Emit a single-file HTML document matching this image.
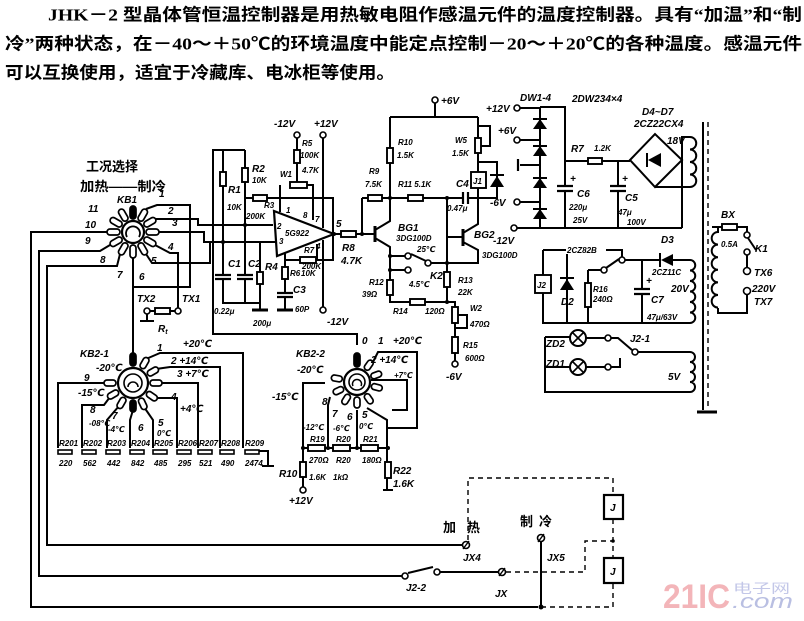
<!DOCTYPE html>
<html><head><meta charset="utf-8"><style>
html,body{margin:0;padding:0;background:#fff;}
svg{display:block;}
.w{fill:none;stroke:#000;stroke-width:2;stroke-linejoin:miter;}
.d{fill:none;stroke:#000;stroke-width:1.4;stroke-dasharray:5 4;}
.r{fill:#fff;stroke:#000;stroke-width:1.9;}
.t{fill:#fff;stroke:#000;stroke-width:1.6;}
.l{font-family:"Liberation Sans","DejaVu Sans","Noto Sans CJK SC",sans-serif;font-weight:bold;font-style:italic;font-size:10px;fill:#000;}
.s{font-family:"Liberation Sans","DejaVu Sans",sans-serif;font-weight:bold;font-style:italic;font-size:8px;fill:#000;}
.c{font-family:"Liberation Sans","Noto Sans CJK SC",sans-serif;font-weight:bold;font-size:13px;fill:#000;}
.ti{font-family:"Liberation Serif","Noto Sans CJK SC",serif;font-weight:bold;font-size:17px;fill:#000;}
</style></head><body>
<svg width="804" height="621" viewBox="0 0 804 621" xmlns="http://www.w3.org/2000/svg">
<rect width="804" height="621" fill="#fff"/>

<!-- Title -->
<text class="ti" x="48" y="20.5" textLength="754" lengthAdjust="spacingAndGlyphs">JHK－2 型晶体管恒温控制器是用热敏电阻作感温元件的温度控制器。具有“加温”和“制</text>
<text class="ti" x="5" y="49.5" textLength="797" lengthAdjust="spacingAndGlyphs">冷”两种状态，在－40～＋50℃的环境温度中能定点控制－20～＋20℃的各种温度。感温元件</text>
<text class="ti" x="5" y="78.5" textLength="390" lengthAdjust="spacingAndGlyphs">可以互换使用，适宜于冷藏库、电冰柜等使用。</text>

<!-- ================= KB1 ================= -->
<g class="w">
<path d="M146,209 L157,205 H190 V287 H133"/>
<path d="M155,219 H198 V225 H273"/>
<path d="M159,232 H204 V242 H275"/>
<path d="M155,245 L170,253 H178 V308"/>
<path d="M146,254 L152,263 H210 V242"/>
<path d="M133,258 V353"/>
<path d="M120,254 L117,266 H47 V545 H462"/>
<path d="M110,245 L100,251 H39 V576 H402"/>
<path d="M107,232 H31 V607 H538"/>
</g>
<circle cx="133" cy="232" r="11" fill="#fff" stroke="#000" stroke-width="2.2"/>
<path d="M127,237 A7,7 0 1 1 139,237" fill="none" stroke="#000" stroke-width="1.8"/>
<g transform="translate(133,232)">
<g fill="#fff" stroke="#000" stroke-width="1.7">
<rect x="-3" y="-26" width="6" height="13" rx="3" transform="rotate(0)" fill="#000"/>
<rect x="-3" y="-26" width="6" height="13" rx="3" transform="rotate(30)"/>
<rect x="-3" y="-26" width="6" height="13" rx="3" transform="rotate(60)"/>
<rect x="-3" y="-26" width="6" height="13" rx="3" transform="rotate(90)"/>
<rect x="-3" y="-26" width="6" height="13" rx="3" transform="rotate(120)"/>
<rect x="-3" y="-26" width="6" height="13" rx="3" transform="rotate(150)"/>
<rect x="-3" y="-26" width="6" height="13" rx="3" transform="rotate(180)"/>
<rect x="-3" y="-26" width="6" height="13" rx="3" transform="rotate(210)"/>
<rect x="-3" y="-26" width="6" height="13" rx="3" transform="rotate(240)"/>
<rect x="-3" y="-26" width="6" height="13" rx="3" transform="rotate(270)"/>
<rect x="-3" y="-26" width="6" height="13" rx="3" transform="rotate(300)"/>
<rect x="-3" y="-26" width="6" height="13" rx="3" transform="rotate(330)"/>
</g></g>
<text class="c" x="86" y="171">工况选择</text>
<text class="c" x="80" y="191" textLength="86" lengthAdjust="spacingAndGlyphs">加热——制冷</text>
<text class="l" x="117" y="203">KB1</text>
<text class="l" x="159" y="197">1</text>
<text class="l" x="168" y="214">2</text>
<text class="l" x="172" y="226">3</text>
<text class="l" x="168" y="250">4</text>
<text class="l" x="151" y="264">5</text>
<text class="l" x="139" y="280">6</text>
<text class="l" x="117" y="278">7</text>
<text class="l" x="100" y="263">8</text>
<text class="l" x="85" y="244">9</text>
<text class="l" x="85" y="228">10</text>
<text class="l" x="88" y="212">11</text>

<!-- TX1/TX2/Rt -->
<g class="w"><path d="M150,311 H155 M170,311 H175 M147,314 V321 M140,321 H154"/></g>
<rect class="r" x="155" y="308" width="15" height="6"/>
<circle class="t" cx="147" cy="311" r="3"/>
<circle class="t" cx="178" cy="311" r="3"/>
<text class="l" x="137" y="302">TX2</text>
<text class="l" x="182" y="302">TX1</text>
<text class="l" x="158" y="332">R<tspan font-size="7" dy="2">t</tspan></text>

<!-- ================= Op-amp ================= -->
<g class="w">
<path d="M245,150 H213 V334 H357 V345"/>
<path d="M223,150 V303 H260"/>
<path d="M245,150 V303"/>
<path d="M260,242 V310"/>
<path d="M245,198 H333 V260 H285"/>
<path d="M280,185 V212 M306,185 H313 V220"/>
<path d="M297,138 V182"/>
<path d="M323,138 V228 M323,240 V307"/>
<path d="M285,245 V310"/>
<path d="M317,244 V260"/>
<path d="M334,234 H375"/>
</g>
<path d="M252,310 H268 M277,310 H293" stroke="#000" stroke-width="3"/>
<rect x="214" y="275" width="18" height="4" fill="#fff"/>
<rect x="236" y="275" width="18" height="4" fill="#fff"/>
<rect x="276" y="293" width="18" height="4" fill="#fff"/>
<g stroke="#000" stroke-width="2.2"><path d="M215,275 H231 M215,279 H231 M237,275 H253 M237,279 H253 M277,293 H293 M277,297 H293"/></g>
<rect class="r" x="220" y="172" width="6" height="14"/>
<rect class="r" x="242" y="168" width="6" height="14"/>
<rect class="r" x="257" y="272" width="6" height="12"/>
<rect class="r" x="253" y="195" width="14" height="6"/>
<rect class="r" x="290" y="182" width="17" height="6"/>
<rect class="r" x="294" y="150" width="6" height="13"/>
<rect class="r" x="300" y="257" width="16" height="6"/>
<rect class="r" x="282" y="267" width="6" height="12"/>
<rect class="r" x="341" y="231" width="15" height="6"/>
<polygon points="274,211 277,256 334,234" fill="#fff" stroke="#000" stroke-width="2.2"/>
<circle cx="223" cy="242" r="2" fill="#000"/><circle cx="245" cy="225" r="2" fill="#000"/><circle cx="334" cy="234" r="2" fill="#000"/><circle cx="362" cy="234" r="2" fill="#000"/>
<circle class="t" cx="297" cy="135" r="3"/>
<circle class="t" cx="323" cy="135" r="3"/>
<circle class="t" cx="323" cy="310" r="3"/>
<text class="s" x="285" y="236">5G922</text>
<text class="l" x="274" y="127">-12V</text>
<text class="l" x="314" y="127">+12V</text>
<text class="s" x="302" y="146">R5</text>
<text class="s" x="300" y="158">100K</text>
<text class="s" x="280" y="177">W1</text>
<text class="s" x="302" y="173">4.7K</text>
<text class="l" x="252" y="172">R2</text>
<text class="s" x="252" y="183">10K</text>
<text class="l" x="228" y="193">R1</text>
<text class="s" x="227" y="210">10K</text>
<text class="s" x="264" y="208">R3</text>
<text class="s" x="246" y="219">200K</text>
<text class="s" x="286" y="213">1</text>
<text class="s" x="303" y="218">8</text>
<text class="s" x="315" y="222">7</text>
<text class="s" x="277" y="229">2</text>
<text class="s" x="279" y="244">3</text>
<text class="s" x="316" y="249">4</text>
<text class="l" x="336" y="227">5</text>
<text class="s" x="304" y="253">R7</text>
<text class="s" x="302" y="269">200K</text>
<text class="s" x="290" y="276">R6</text>
<text class="s" x="301" y="276">10K</text>
<text class="l" x="342" y="251">R8</text>
<text class="l" x="341" y="264">4.7K</text>
<text class="l" x="228" y="267">C1</text>
<text class="l" x="248" y="267">C2</text>
<text class="l" x="265" y="270">R4</text>
<text class="l" x="293" y="293">C3</text>
<text class="s" x="295" y="312">60P</text>
<text class="s" x="214" y="314">0.22μ</text>
<text class="s" x="253" y="326">200μ</text>
<text class="l" x="327" y="325">-12V</text>

<!-- ================= Transistors ================= -->
<g class="w">
<path d="M435,103 V117 M390,117 H478 M390,117 V221 L375,230"/>
<path d="M375,238 L390,247 V302 H455 V361"/>
<path d="M362,198 H463 M362,198 V234"/>
<path d="M468,198 H497 V162 H478"/>
<path d="M478,117 V172 M481,146 H490 V126 H478"/>
<path d="M478,188 V224 L463,233"/>
<path d="M447,237 H463 M463,242 L478,250 V263 H447"/>
<path d="M447,198 V302"/>
<path d="M458,315 H467 V328 H455"/>
<path d="M390,256 H405 M390,270 H405 M431,263 H447 M426,261 L411,254"/>
</g>
<path d="M375,226 V242 M463,229 V246" stroke="#000" stroke-width="3"/>
<g stroke="#000" stroke-width="2.2"><path d="M463,192 V204 M468,192 V204"/></g>
<rect class="r" x="387" y="148" width="6" height="15"/>
<rect class="r" x="368" y="195" width="14" height="6"/>
<rect class="r" x="408" y="195" width="15" height="6"/>
<rect class="r" x="475" y="138" width="6" height="15"/>
<rect class="r" x="471" y="172" width="15" height="16" stroke-width="2.2"/>
<text class="s" x="473" y="184">J1</text>
<polygon points="490,187 504,187 497,176" fill="#000"/><path d="M490,175 H504" stroke="#000" stroke-width="2"/>
<rect class="r" x="387" y="280" width="6" height="15"/>
<rect class="r" x="444" y="272" width="6" height="15"/>
<rect class="r" x="410" y="299" width="15" height="6"/>
<rect class="r" x="452" y="307" width="6" height="16"/>
<rect class="r" x="452" y="337" width="6" height="16"/>
<circle class="t" cx="435" cy="100" r="3"/>
<circle class="t" cx="408" cy="256" r="3"/>
<circle class="t" cx="408" cy="270" r="3"/>
<circle class="t" cx="428" cy="263" r="3"/>
<circle class="t" cx="455" cy="364" r="3"/>
<circle cx="390" cy="198" r="2" fill="#000"/><circle cx="447" cy="198" r="2" fill="#000"/><circle cx="447" cy="263" r="2" fill="#000"/><circle cx="447" cy="302" r="2" fill="#000"/><circle cx="390" cy="256" r="2" fill="#000"/><circle cx="390" cy="270" r="2" fill="#000"/>
<text class="l" x="441" y="104">+6V</text>
<text class="s" x="398" y="145">R10</text>
<text class="s" x="397" y="158">1.5K</text>
<text class="s" x="455" y="143">W5</text>
<text class="s" x="452" y="156">1.5K</text>
<text class="s" x="369" y="174">R9</text>
<text class="s" x="365" y="187">7.5K</text>
<text class="s" x="398" y="187">R11  5.1K</text>
<text class="l" x="456" y="187">C4</text>
<text class="s" x="447" y="211">0.47μ</text>
<text class="l" x="398" y="231">BG1</text>
<text class="s" x="396" y="241">3DG100D</text>
<text class="s" x="417" y="252">25℃</text>
<text class="l" x="430" y="279">K2</text>
<text class="s" x="409" y="287">4.5℃</text>
<text class="l" x="474" y="238">BG2</text>
<text class="l" x="493" y="244">-12V</text>
<text class="s" x="482" y="258">3DG100D</text>
<text class="s" x="369" y="285">R12</text>
<text class="s" x="362" y="297">39Ω</text>
<text class="s" x="458" y="283">R13</text>
<text class="s" x="458" y="295">22K</text>
<text class="s" x="393" y="314">R14</text>
<text class="s" x="425" y="314">120Ω</text>
<text class="s" x="470" y="311">W2</text>
<text class="s" x="470" y="327">470Ω</text>
<text class="s" x="463" y="348">R15</text>
<text class="s" x="465" y="361">600Ω</text>
<text class="l" x="446" y="380">-6V</text>

<!-- ================= Power supply ================= -->
<g class="w">
<path d="M520,108 H540 V228 M540,107 H565 V228 M517,228 H682"/>
<path d="M520,140 H540 M520,165 H540 M520,202 H540"/>
<path d="M565,161 H630 M618,161 V228"/>
<path d="M682,160 V137 H690 M682,160 V228 M655,187 H690"/>
<path d="M690,137 a6.25,6.25 0 0 1 0,12.5 a6.25,6.25 0 0 1 0,12.5 a6.25,6.25 0 0 1 0,12.5 a6.25,6.25 0 0 1 0,12.5"/>
</g>
<path d="M518,159 V171" stroke="#000" stroke-width="2.2"/>
<g fill="#000">
<polygon points="533,129 547,129 540,119"/><polygon points="533,156 547,156 540,146"/><polygon points="533,188 547,188 540,178"/><polygon points="533,219 547,219 540,209"/>
</g>
<g stroke="#000" stroke-width="2"><path d="M533,119 H547 M533,146 H547 M533,178 H547 M533,209 H547"/></g>
<rect x="556" y="186" width="18" height="5" fill="#fff"/>
<rect x="609" y="186" width="18" height="5" fill="#fff"/>
<g stroke="#000" stroke-width="2.2"><path d="M557,186 H573 M557,191 H573 M610,186 H626 M610,191 H626"/></g>
<rect class="r" x="588" y="158" width="14" height="6"/>
<polygon points="630,160 655,134 682,160 655,187" fill="none" stroke="#000" stroke-width="2"/>
<polygon points="648,160 661,153 661,167" fill="#000"/><path d="M647,153 V167" stroke="#000" stroke-width="2"/>
<circle class="t" cx="517" cy="108" r="3"/>
<circle class="t" cx="517" cy="140" r="3"/>
<circle class="t" cx="517" cy="202" r="3"/>
<circle class="t" cx="514" cy="228" r="3"/>
<text class="l" x="486" y="112">+12V</text>
<text class="l" x="498" y="134">+6V</text>
<text class="l" x="490" y="206">-6V</text>
<text class="l" x="520" y="101">DW1-4</text>
<text class="l" x="572" y="102">2DW234×4</text>
<text class="l" x="642" y="115">D4~D7</text>
<text class="l" x="634" y="127">2CZ22CX4</text>
<text class="l" x="667" y="144">18V</text>
<text class="l" x="571" y="152">R7</text>
<text class="s" x="594" y="151">1.2K</text>
<text class="l" x="570" y="182">+</text>
<text class="l" x="622" y="182">+</text>
<text class="l" x="577" y="197">C6</text>
<text class="s" x="569" y="210">220μ</text>
<text class="s" x="573" y="223">25V</text>
<text class="l" x="625" y="201">C5</text>
<text class="s" x="618" y="215">47μ</text>
<text class="s" x="627" y="225">100V</text>

<!-- Transformer -->
<path d="M703,122 V410" stroke="#000" stroke-width="2"/>
<path d="M708,122 V410" class="d"/>
<path d="M697,412 H717" stroke="#000" stroke-width="3"/>
<g class="w">
<path d="M712,227 H722 M737,227 H747 V232 M748,238 L756,250 M747,255 V268 M747,294 V313 H718 V308"/>
<path d="M712,227 H718 V232 a6.3,6.3 0 0 0 0,12.6 a6.3,6.3 0 0 0 0,12.6 a6.3,6.3 0 0 0 0,12.6 a6.3,6.3 0 0 0 0,12.6 a6.3,6.3 0 0 0 0,12.6 a6.3,6.3 0 0 0 0,12.6"/>
</g>
<rect class="r" x="722" y="224" width="15" height="6"/>
<circle class="t" cx="747" cy="235" r="3"/>
<circle class="t" cx="747" cy="252" r="3"/>
<circle class="t" cx="747" cy="271" r="3.5"/>
<circle class="t" cx="747" cy="291" r="3.5"/>
<text class="l" x="721" y="218">BX</text>
<text class="s" x="721" y="247">0.5A</text>
<text class="l" x="755" y="252">K1</text>
<text class="l" x="754" y="276">TX6</text>
<text class="l" x="752" y="292">220V</text>
<text class="l" x="754" y="305">TX7</text>

<!-- J2 / 20V -->
<g class="w">
<path d="M543,250 V275 M543,293 V323 H690 M543,250 H622 V257"/>
<path d="M625,260 H660 M673,260 H690"/>
<path d="M690,260 a5.25,5.25 0 0 1 0,10.5 a5.25,5.25 0 0 1 0,10.5 a5.25,5.25 0 0 1 0,10.5 a5.25,5.25 0 0 1 0,10.5 a5.25,5.25 0 0 1 0,10.5 a5.25,5.25 0 0 1 0,10.5"/>
<path d="M567,250 V323 M588,270 V323 M588,270 H601 M606,268 L619,259 M642,260 V323"/>
</g>
<rect class="r" x="535" y="275" width="16" height="18" stroke-width="2.2"/>
<text class="s" x="537" y="288">J2</text>
<polygon points="560,290 574,290 567,279" fill="#000"/><path d="M560,278 H574" stroke="#000" stroke-width="2"/>
<polygon points="661,260 673,254 673,266" fill="#000"/><path d="M660,253 V267" stroke="#000" stroke-width="2"/>
<rect class="r" x="585" y="283" width="6" height="24"/>
<rect x="633" y="289" width="18" height="5" fill="#fff"/>
<path d="M634,289 H650 M634,294 H650" stroke="#000" stroke-width="2.2"/>
<circle class="t" cx="622" cy="260" r="3"/>
<circle class="t" cx="604" cy="270" r="3"/>
<rect x="566" y="244" width="40" height="10" fill="#fff"/>
<text class="s" x="567" y="253">2CZ82B</text>
<text class="l" x="661" y="243">D3</text>
<text class="s" x="652" y="275">2CZ11C</text>
<text class="l" x="671" y="292">20V</text>
<text class="l" x="646" y="284">+</text>
<text class="l" x="651" y="303">C7</text>
<text class="s" x="647" y="320">47μ/63V</text>
<text class="s" x="593" y="292">R16</text>
<text class="s" x="593" y="302">240Ω</text>
<text class="l" x="561" y="305">D2</text>

<!-- Lamps -->
<g class="w">
<path d="M545,337 V392 H690 M545,337 H570 M586,338 H605 M545,367 H570 M586,367 H605 M611,367 H620 V358 M611,338 H618 L632,350 M638,352 H690"/>
<path d="M690,352 a5,5 0 0 1 0,10 a5,5 0 0 1 0,10 a5,5 0 0 1 0,10 a5,5 0 0 1 0,10"/>
</g>
<circle cx="578" cy="338" r="8" fill="#fff" stroke="#000" stroke-width="2"/>
<circle cx="578" cy="367" r="8" fill="#fff" stroke="#000" stroke-width="2"/>
<path d="M572,332 L584,344 M584,332 L572,344 M572,361 L584,373 M584,361 L572,373" stroke="#000" stroke-width="1.6"/>
<circle class="t" cx="608" cy="338" r="3"/>
<circle class="t" cx="608" cy="367" r="3"/>
<circle class="t" cx="635" cy="352" r="3"/>
<text class="l" x="546" y="347">ZD2</text>
<text class="l" x="546" y="367">ZD1</text>
<text class="l" x="630" y="342">J2-1</text>
<text class="l" x="668" y="380">5V</text>

<!-- ================= KB2-1 ================= -->
<g class="w">
<path d="M106,383 H58 V448"/>
<path d="M110,397 L104,405 H82 V448"/>
<path d="M119,406 L107,420 V448"/>
<path d="M133,410 L130,420 V448"/>
<path d="M144,407 L153,420 V448"/>
<path d="M155,398 H177 V448"/>
<path d="M160,383 H198 V448"/>
<path d="M156,369 L170,367 H220 V448"/>
<path d="M146,359 L160,353 H243 V448"/>
<path d="M259,451 H268 V466 M262,466 H274"/>
</g>
<circle cx="133" cy="383" r="15" fill="#fff" stroke="#000" stroke-width="2.2"/>
<circle cx="133" cy="383" r="9" fill="none" stroke="#000" stroke-width="1.6"/>
<path d="M128,387 A5,5 0 1 1 138,387" fill="none" stroke="#000" stroke-width="1.6"/>
<g transform="translate(133,383)">
<g fill="#fff" stroke="#000" stroke-width="1.7">
<rect x="-3" y="-30" width="6" height="13" rx="3" fill="#000"/>
<rect x="-3" y="-29" width="6" height="12" rx="3" transform="rotate(30)"/>
<rect x="-3" y="-29" width="6" height="12" rx="3" transform="rotate(60)"/>
<rect x="-3" y="-29" width="6" height="12" rx="3" transform="rotate(90)"/>
<rect x="-3" y="-29" width="6" height="12" rx="3" transform="rotate(125)"/>
<rect x="-3" y="-29" width="6" height="12" rx="3" transform="rotate(155)"/>
<rect x="-3" y="-29" width="6" height="12" rx="3" transform="rotate(180)" fill="#000"/>
<rect x="-3" y="-29" width="6" height="12" rx="3" transform="rotate(210)"/>
<rect x="-3" y="-29" width="6" height="12" rx="3" transform="rotate(240)"/>
<rect x="-3" y="-29" width="6" height="12" rx="3" transform="rotate(270)"/>
</g></g>
<g fill="#fff" stroke="#000" stroke-width="1.6">
<rect x="58" y="450" width="14" height="4"/><rect x="82" y="450" width="14" height="4"/><rect x="106" y="450" width="14" height="4"/><rect x="130" y="450" width="14" height="4"/><rect x="153" y="450" width="14" height="4"/><rect x="177" y="450" width="14" height="4"/><rect x="198" y="450" width="14" height="4"/><rect x="220" y="450" width="14" height="4"/><rect x="245" y="450" width="14" height="4"/>
</g>
<g class="s">
<text x="59" y="446">R201</text><text x="83" y="446">R202</text><text x="107" y="446">R203</text><text x="131" y="446">R204</text><text x="154" y="446">R205</text><text x="178" y="446">R206</text><text x="199" y="446">R207</text><text x="221" y="446">R208</text><text x="245" y="446">R209</text>
<text x="59" y="466">220</text><text x="83" y="466">562</text><text x="107" y="466">442</text><text x="131" y="466">842</text><text x="154" y="466">485</text><text x="178" y="466">295</text><text x="199" y="466">521</text><text x="221" y="466">490</text><text x="245" y="466">2474</text>
</g>
<text class="l" x="80" y="357">KB2-1</text>
<text class="l" x="96" y="371">-20℃</text>
<text class="l" x="84" y="381">9</text>
<text class="l" x="78" y="396">-15℃</text>
<text class="l" x="90" y="413">8</text>
<text class="s" x="89" y="426">-08℃</text>
<text class="l" x="112" y="419">7</text>
<text class="s" x="108" y="432">-4℃</text>
<text class="l" x="138" y="431">6</text>
<text class="l" x="158" y="426">5</text>
<text class="s" x="157" y="436">0℃</text>
<text class="l" x="171" y="400">4</text>
<text class="l" x="180" y="412">+4℃</text>
<text class="l" x="177" y="377">3 +7℃</text>
<text class="l" x="171" y="364">2 +14℃</text>
<text class="l" x="157" y="351">1</text>
<text class="l" x="183" y="347">+20℃</text>

<!-- ================= KB2-2 ================= -->
<g class="w">
<path d="M325,383 H303 V489"/>
<path d="M330,397 L328,405 V448"/>
<path d="M357,410 V448"/>
<path d="M367,408 L387,420 V490"/>
<path d="M303,448 H388"/>
<path d="M370,368 L378,352 H417 V428 H388"/>
<path d="M371,380 H407 V410 H392"/>
<path d="M383,490 H393"/>
</g>
<circle cx="357" cy="382" r="13" fill="#fff" stroke="#000" stroke-width="2.2"/>
<circle cx="357" cy="382" r="8" fill="none" stroke="#000" stroke-width="1.6"/>
<path d="M353,386 A4.5,4.5 0 1 1 361,386" fill="none" stroke="#000" stroke-width="1.5"/>
<g transform="translate(357,382)">
<g fill="#fff" stroke="#000" stroke-width="1.7">
<rect x="-3" y="-29" width="6" height="14" rx="3" fill="#000"/>
<rect x="-3" y="-26" width="6" height="11" rx="3" transform="rotate(35)"/>
<rect x="-3" y="-26" width="6" height="11" rx="3" transform="rotate(70)"/>
<rect x="-3" y="-26" width="6" height="11" rx="3" transform="rotate(105)"/>
<rect x="-3" y="-26" width="6" height="11" rx="3" transform="rotate(145)"/>
<rect x="-3" y="-26" width="6" height="11" rx="3" transform="rotate(180)"/>
<rect x="-3" y="-26" width="6" height="11" rx="3" transform="rotate(212)"/>
<rect x="-3" y="-26" width="6" height="11" rx="3" transform="rotate(245)"/>
<rect x="-3" y="-26" width="6" height="11" rx="3" transform="rotate(280)"/>
</g></g>
<rect class="r" x="308" y="445" width="17" height="6"/>
<rect class="r" x="333" y="445" width="17" height="6"/>
<rect class="r" x="361" y="445" width="17" height="6"/>
<rect class="r" x="300" y="462" width="6" height="15"/>
<rect class="r" x="385" y="462" width="6" height="16"/>
<circle class="t" cx="303" cy="490" r="3"/>
<circle cx="303" cy="448" r="2" fill="#000"/><circle cx="328" cy="448" r="2" fill="#000"/><circle cx="357" cy="448" r="2" fill="#000"/><circle cx="388" cy="448" r="2" fill="#000"/>
<text class="l" x="362" y="344">0</text>
<text class="l" x="378" y="344">1</text>
<text class="l" x="393" y="344">+20℃</text>
<text class="l" x="296" y="357">KB2-2</text>
<text class="l" x="297" y="373">-20℃</text>
<text class="l" x="371" y="363">2 +14℃</text>
<text class="s" x="394" y="378">+7℃</text>
<text class="l" x="272" y="400">-15℃</text>
<text class="l" x="322" y="405">8</text>
<text class="l" x="332" y="417">7</text>
<text class="l" x="347" y="420">6</text>
<text class="l" x="362" y="418">5</text>
<text class="s" x="303" y="430">-12℃</text>
<text class="s" x="333" y="431">-6℃</text>
<text class="s" x="359" y="429">0℃</text>
<text class="s" x="310" y="442">R19</text>
<text class="s" x="336" y="442">R20</text>
<text class="s" x="363" y="442">R21</text>
<text class="s" x="309" y="463">270Ω</text>
<text class="s" x="336" y="463">R20</text>
<text class="s" x="362" y="463">180Ω</text>
<text class="l" x="279" y="477">R10</text>
<text class="s" x="309" y="480">1.6K</text>
<text class="s" x="333" y="480">1kΩ</text>
<text class="l" x="393" y="474">R22</text>
<text class="l" x="393" y="487">1.6K</text>
<text class="l" x="289" y="504">+12V</text>

<!-- ================= Bottom wiring ================= -->
<g class="w">
<path d="M408,573 L433,567 M440,572 H498 M541,542 V607"/>
</g>
<circle class="t" cx="466" cy="545" r="3.5"/><path d="M463,549 L469,541" stroke="#000" stroke-width="1.4"/>
<circle class="t" cx="405" cy="576" r="3"/>
<circle class="t" cx="437" cy="572" r="3"/>
<circle class="t" cx="502" cy="572" r="3.5"/><path d="M499,576 L505,568" stroke="#000" stroke-width="1.4"/>
<circle class="t" cx="541" cy="538" r="3.5"/><path d="M538,542 L544,534" stroke="#000" stroke-width="1.4"/>
<circle cx="541" cy="607" r="2.5" fill="#000"/>
<g class="d">
<path d="M506,572 H585 V541 H613"/>
<path d="M541,607 H613 V583"/>
<path d="M468,540 V478 H613 V495"/>
<path d="M613,519 V558"/>
</g>
<circle cx="613" cy="541" r="1.8" fill="#000"/>
<rect x="604" y="495" width="19" height="24" fill="#fff" stroke="#000" stroke-width="2.2"/>
<rect x="604" y="558" width="19" height="25" fill="#fff" stroke="#000" stroke-width="2.2"/>
<text class="l" x="610" y="511">J</text>
<text class="l" x="610" y="575">J</text>
<text class="c" x="443" y="532" font-size="12">加</text>
<text class="c" x="467" y="532" font-size="12">热</text>
<text class="c" x="520" y="526" font-size="12">制</text>
<text class="c" x="539" y="526" font-size="12">冷</text>
<text class="l" x="463" y="561">JX4</text>
<text class="l" x="547" y="561">JX5</text>
<text class="l" x="406" y="591">J2-2</text>
<text class="l" x="495" y="597">JX</text>

<!-- Watermark -->
<text x="663" y="608" font-family="Liberation Sans, sans-serif" font-weight="bold" font-size="34" fill="#f3b5b9" textLength="67" lengthAdjust="spacingAndGlyphs">21IC</text>
<text x="733" y="593" font-family="Liberation Sans, Noto Sans CJK SC, sans-serif" font-size="13" fill="#c3c7e8" textLength="57" lengthAdjust="spacingAndGlyphs">电子网</text>
<text x="732" y="608" font-family="Liberation Sans, sans-serif" font-style="italic" font-size="20" fill="#b9bfe2" textLength="61" lengthAdjust="spacingAndGlyphs">.com</text>
</svg>
</body></html>
